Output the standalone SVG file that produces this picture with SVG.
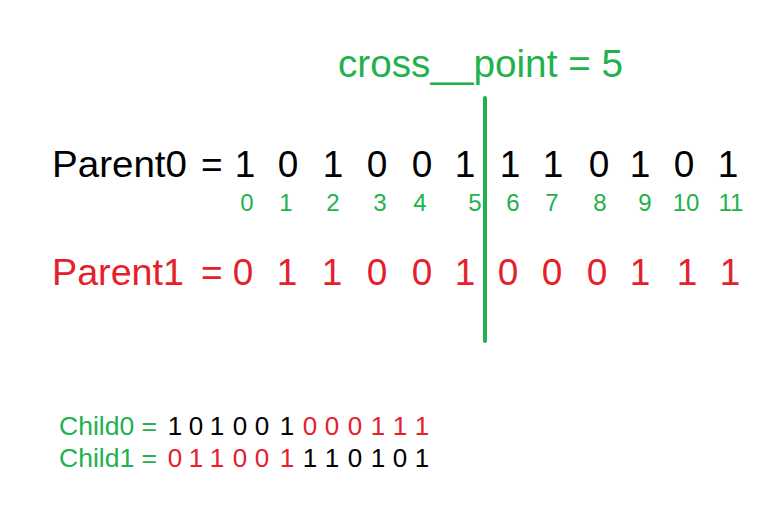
<svg xmlns="http://www.w3.org/2000/svg" width="781" height="517" viewBox="0 0 781 517">
<style>
text{font-family:"Liberation Sans",Arial,sans-serif}
.g{fill:#22b14c}.r{fill:#e5202a}.k{fill:#000}
.big{font-size:37px}
.idx{font-size:24px;text-anchor:middle}
.d{text-anchor:middle}
.ch{font-size:26px}
</style>
<rect width="781" height="517" fill="#fff"/>
<g id="cross-point-label">
<text class="g" x="338" y="77" font-size="38" textLength="285" lengthAdjust="spacingAndGlyphs">cross__point = 5</text>
</g>
<g id="connectors">
<line x1="485" y1="98" x2="485" y2="341" stroke="#22b14c" stroke-width="4" stroke-linecap="round"/>
</g>
<g id="parent0">
<text class="k big" x="52" y="177" textLength="135" lengthAdjust="spacingAndGlyphs">Parent0</text>
<text class="k big" x="201" y="177">=</text>
<text class="k big d" y="177"><tspan x="245">1</tspan><tspan x="288">0</tspan><tspan x="333">1</tspan><tspan x="377">0</tspan><tspan x="422">0</tspan><tspan x="465">1</tspan><tspan x="510">1</tspan><tspan x="553">1</tspan><tspan x="599">0</tspan><tspan x="640">1</tspan><tspan x="684">0</tspan><tspan x="728">1</tspan></text>
</g>
<g id="indices">
<text class="g idx" y="211"><tspan x="247">0</tspan><tspan x="286">1</tspan><tspan x="333">2</tspan><tspan x="380">3</tspan><tspan x="420">4</tspan><tspan x="475">5</tspan><tspan x="513">6</tspan><tspan x="552">7</tspan><tspan x="600">8</tspan><tspan x="645">9</tspan><tspan x="686">10</tspan><tspan x="731">11</tspan></text>
</g>
<g id="parent1">
<text class="r big" x="52" y="285" textLength="132" lengthAdjust="spacingAndGlyphs">Parent1</text>
<text class="r big" x="201" y="285">=</text>
<text class="r big d" y="285"><tspan x="243">0</tspan><tspan x="287">1</tspan><tspan x="332">1</tspan><tspan x="377">0</tspan><tspan x="422">0</tspan><tspan x="465">1</tspan><tspan x="508">0</tspan><tspan x="552">0</tspan><tspan x="597">0</tspan><tspan x="640">1</tspan><tspan x="687">1</tspan><tspan x="730">1</tspan></text>
</g>
<g id="child0">
<text class="ch g" x="59" y="435" textLength="98" lengthAdjust="spacingAndGlyphs">Child0 =</text>
<text class="ch d" y="435"><tspan class="k" x="175">1</tspan><tspan class="k" x="196">0</tspan><tspan class="k" x="217">1</tspan><tspan class="k" x="240">0</tspan><tspan class="k" x="262">0</tspan><tspan class="k" x="287">1</tspan><tspan class="r" x="310">0</tspan><tspan class="r" x="332">0</tspan><tspan class="r" x="355">0</tspan><tspan class="r" x="378">1</tspan><tspan class="r" x="400">1</tspan><tspan class="r" x="422">1</tspan></text>
</g>
<g id="child1">
<text class="ch g" x="59" y="467" textLength="98" lengthAdjust="spacingAndGlyphs">Child1 =</text>
<text class="ch d" y="467"><tspan class="r" x="175">0</tspan><tspan class="r" x="196">1</tspan><tspan class="r" x="217">1</tspan><tspan class="r" x="240">0</tspan><tspan class="r" x="262">0</tspan><tspan class="r" x="287">1</tspan><tspan class="k" x="310">1</tspan><tspan class="k" x="332">1</tspan><tspan class="k" x="355">0</tspan><tspan class="k" x="378">1</tspan><tspan class="k" x="400">0</tspan><tspan class="k" x="422">1</tspan></text>
</g>
</svg>
